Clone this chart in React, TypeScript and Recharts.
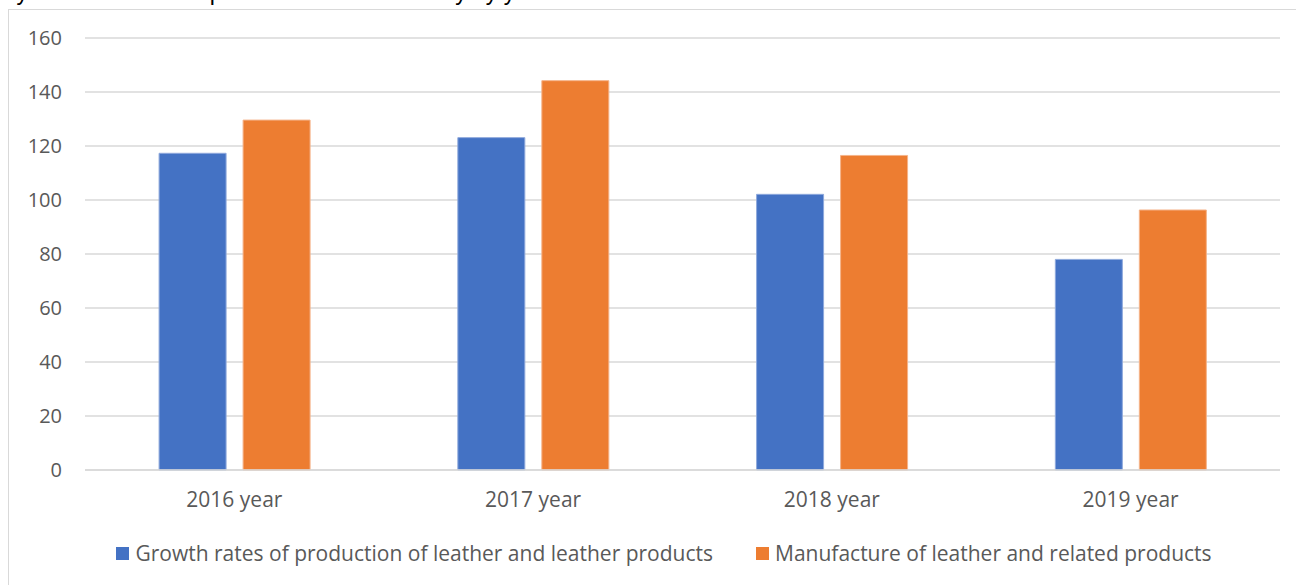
import { BarChart, Bar, XAxis, YAxis, CartesianGrid, Legend } from "recharts";

const years = ["2016 year", "2017 year", "2018 year", "2019 year"];
const growthRates = [117.3, 123.1, 102.1, 78.0];
const manufacture = [129.6, 144.2, 116.5, 96.3];
const yTicks = [0, 20, 40, 60, 80, 100, 120, 140, 160];

const seriesNames = {
  growth: "Growth rates of production of leather and leather products",
  manufacture: "Manufacture of leather and related products",
};

const BLUE = "#4472C4";
const ORANGE = "#ED7D31";
const TEXT = "#595959";
const GRID = "#d9d9d9";
const FONT = "'Open Sans', sans-serif";

const rows = years.map((year, i) => ({
  year,
  growth: growthRates[i],
  manufacture: manufacture[i],
}));

const LegendContent = () => (
  <div
    style={{
      display: "flex",
      justifyContent: "center",
      gap: 43,
      height: 28,
      fontFamily: FONT,
      fontSize: 21,
      color: TEXT,
      paddingLeft: 32,
    }}
  >
    {[
      { color: BLUE, label: seriesNames.growth },
      { color: ORANGE, label: seriesNames.manufacture },
    ].map((item) => (
      <div key={item.label} style={{ display: "flex", alignItems: "center" }}>
        <span
          style={{
            width: 13,
            height: 13,
            background: item.color,
            marginRight: 6,
            display: "inline-block",
          }}
        />
        <span>{item.label}</span>
      </div>
    ))}
  </div>
);

export default function App() {
  return (
    <div
      style={{
        position: "absolute",
        left: 0,
        top: 0,
        width: 1296,
        height: 585,
        overflow: "hidden",
        background: "#fff",
      }}
    >
      <div
        style={{
          position: "absolute",
          left: 0,
          top: -19,
          fontFamily: "'Liberation Sans', sans-serif",
          fontSize: 23,
          lineHeight: "23px",
          color: "#000",
          whiteSpace: "nowrap",
        }}
      >
        Dynamics of leather production in the industry by years
      </div>
      <div
        style={{
          position: "absolute",
          left: 8,
          top: 9,
          width: 1400,
          height: 700,
          border: `1.5px solid ${GRID}`,
          background: "#fff",
        }}
      />
      <div style={{ position: "absolute", left: 0, top: 0 }}>
        <BarChart
          width={1296}
          height={585}
          data={rows}
          margin={{ top: 38, right: 16, bottom: 57, left: 0 }}
          barCategoryGap="24.8%"
          barGap={17}
        >
          <CartesianGrid vertical={false} stroke={GRID} strokeWidth={1.5} />
          <XAxis
            dataKey="year"
            height={30}
            axisLine={{ stroke: GRID, strokeWidth: 1.5 }}
            tickLine={false}
            tickSize={0}
            tickMargin={22}
            tick={{ fill: TEXT, fontSize: 21, fontFamily: FONT }}
          />
          <YAxis
            domain={[0, 160]}
            ticks={yTicks}
            width={85}
            axisLine={false}
            tickLine={false}
            tickSize={0}
            tickMargin={23}
            tick={{ fill: TEXT, fontSize: 20, fontFamily: FONT }}
          />
          <Legend
            content={<LegendContent />}
            wrapperStyle={{ position: "absolute", left: 0, top: 539, width: 1296 }}
          />
          <Bar
            dataKey="growth"
            name={seriesNames.growth}
            fill={BLUE}
            stroke="#8fa9dc"
            strokeWidth={1}
            isAnimationActive={false}
          />
          <Bar
            dataKey="manufacture"
            name={seriesNames.manufacture}
            fill={ORANGE}
            stroke="#f5b48a"
            strokeWidth={1}
            isAnimationActive={false}
          />
        </BarChart>
      </div>
    </div>
  );
}
